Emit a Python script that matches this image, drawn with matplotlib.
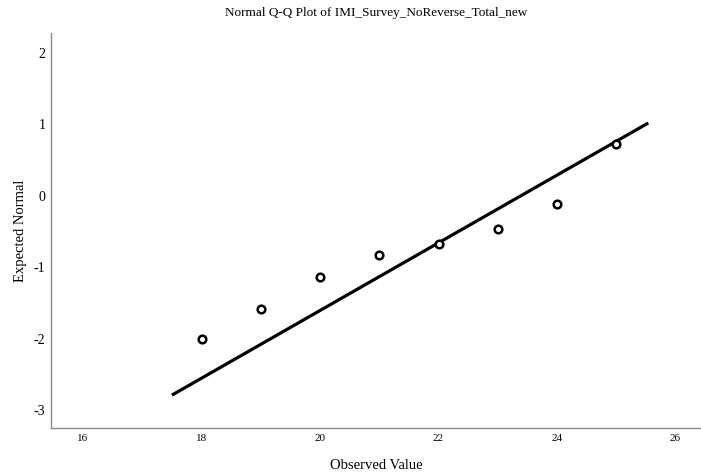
import matplotlib
matplotlib.use("Agg")
import matplotlib.pyplot as plt

observed = [18, 19, 20, 21, 22, 23, 24, 25]
expected = [-2.00, -1.59, -1.13, -0.83, -0.68, -0.46, -0.11, 0.73]
line_x = [17.5, 25.54]
line_y = [-2.79, 1.02]
xticks = [16, 18, 20, 22, 24, 26]
yticks = [-3, -2, -1, 0, 1, 2]

plt.rcParams['font.family'] = ['Liberation Serif', 'DejaVu Serif']

fig = plt.figure(figsize=(7.01, 4.75), dpi=100)
ax = fig.add_axes([51/701, 1-428/475, 650/701, (428-33)/475])

ax.plot(line_x, line_y, color='black', lw=2.3, solid_capstyle='butt', zorder=2)
ax.plot(observed, expected, linestyle='none', marker='o', markersize=5.5,
        markerfacecolor='white', markeredgecolor='black', markeredgewidth=1.8, zorder=3)

ax.set_xlim(15.46, 26.43)
ax.set_ylim(-3.25, 2.28)
ax.set_xticks(xticks)
ax.set_yticks(yticks)
ax.set_xticklabels([str(t) for t in xticks], fontsize=8)
ax.set_yticklabels([str(t) for t in yticks], fontsize=10)
ax.tick_params(length=0)
ax.tick_params(axis='y', pad=4)
ax.tick_params(axis='x', pad=4)
for s in ['top', 'right']:
    ax.spines[s].set_visible(False)
for s in ['left', 'bottom']:
    ax.spines[s].set_color('#8c8c8c')
    ax.spines[s].set_linewidth(1.0)

ax.set_title('Normal Q-Q Plot of IMI_Survey_NoReverse_Total_new', fontsize=9.5, pad=12)
ax.set_xlabel('Observed Value', fontsize=10.5, labelpad=12)
ax.set_ylabel('Expected Normal', fontsize=10.5, labelpad=5)

fig.savefig('out.png', dpi=100)
